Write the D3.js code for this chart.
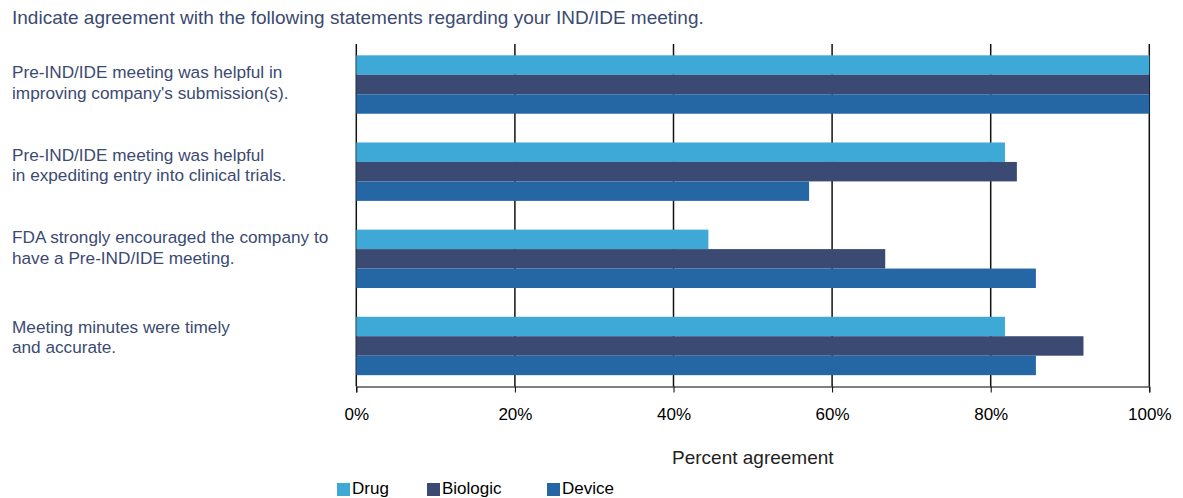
<!DOCTYPE html>
<html>
<head>
<meta charset="utf-8">
<script src="https://cdn.jsdelivr.net/npm/d3@7"></script>
<style>
  body { margin: 0; background: #fff; }
  svg { display: block; font-family: "Liberation Sans", Arial, sans-serif; }
</style>
</head>
<body>
<svg id="chart" width="1183" height="498"></svg>
<script>
// chart data
var title = "Indicate agreement with the following statements regarding your IND/IDE meeting.";
var statements = [
    ["Pre-IND/IDE meeting was helpful in", "improving company's submission(s)."],
    ["Pre-IND/IDE meeting was helpful", "in expediting entry into clinical trials."],
    ["FDA strongly encouraged the company to", "have a Pre-IND/IDE meeting."],
    ["Meeting minutes were timely", "and accurate."]
];
var seriesNames = ["Drug", "Biologic", "Device"];
var drugValues = [100, 81.8, 44.4, 81.8];
var biologicValues = [100, 83.3, 66.7, 91.7];
var deviceValues = [100, 57.1, 85.7, 85.7];
var tickValues = [0, 20, 40, 60, 80, 100];
var axisTitle = "Percent agreement";

var colors = ["#3ea8d6", "#3b4a72", "#2566a5"];
var textColor = "#3b4a72";
// labels in the original sit a little above the band centres
var labelNudge = [-2, -6.7, -11.4, -9];

var svg = d3.select("#chart");

var series = [drugValues, biologicValues, deviceValues];
var rows = statements.map(function(s, i) {
    return { idx: i, label: s, values: series.map(function(v) { return v[i]; }) };
});

var xScale = d3.scaleLinear().domain([0, 100]).range([356.3, 1149.3]);
var yScale = d3.scaleBand()
    .domain(d3.range(statements.length))
    .range([44, 386.5])
    .paddingInner(0.33)
    .paddingOuter(0.13);
var subScale = d3.scaleBand()
    .domain(d3.range(seriesNames.length))
    .range([0, yScale.bandwidth()]);

// title
svg.append("text")
    .attr("x", 12)
    .attr("y", 24)
    .attr("fill", textColor)
    .style("font-size", "19px")
    .text(title);

// gridlines (behind bars)
svg.append("g")
    .selectAll("line")
    .data(tickValues)
    .enter()
    .append("line")
    .attr("x1", function(d) { return xScale(d); })
    .attr("x2", function(d) { return xScale(d); })
    .attr("y1", 44)
    .attr("y2", 386.5)
    .attr("stroke", "#111")
    .attr("stroke-width", 1.5);

// bars
var groups = svg.append("g")
    .selectAll("g")
    .data(rows)
    .enter()
    .append("g")
    .attr("transform", function(d) { return "translate(0," + yScale(d.idx) + ")"; });

groups.selectAll("rect")
    .data(function(d) { return d.values; })
    .enter()
    .append("rect")
    .attr("x", xScale(0))
    .attr("y", function(d, i) { return subScale(i); })
    .attr("width", function(d) { return xScale(d) - xScale(0); })
    .attr("height", subScale.bandwidth())
    .attr("fill", function(d, i) { return colors[i]; });

// category labels
svg.append("g")
    .selectAll("text")
    .data(rows)
    .enter()
    .append("text")
    .attr("fill", textColor)
    .style("font-size", "17.2px")
    .each(function(d) {
        var cy = yScale(d.idx) + yScale.bandwidth() / 2 + labelNudge[d.idx];
        var n = d.label.length;
        d3.select(this).selectAll("tspan")
            .data(d.label)
            .enter()
            .append("tspan")
            .attr("x", 12)
            .attr("y", function(line, j) { return cy + 6 + (j - (n - 1) / 2) * 20.8; })
            .text(function(line) { return line; });
    });

// x axis
var xAxis = svg.append("g")
    .attr("transform", "translate(0,386.5)")
    .call(d3.axisBottom(xScale)
        .tickValues(tickValues)
        .tickFormat(function(d) { return d + "%"; })
        .tickSize(6)
        .tickSizeOuter(6)
        .tickPadding(15));
xAxis.select(".domain").attr("stroke", "#000").attr("stroke-width", 1);
xAxis.selectAll(".tick line").attr("stroke", "#000");
xAxis.selectAll("text")
    .attr("fill", "#000")
    .style("font-size", "17px")
    .style("font-family", "'Liberation Sans', Arial, sans-serif");

svg.append("text")
    .attr("x", (xScale(0) + xScale(100)) / 2)
    .attr("y", 464)
    .attr("text-anchor", "middle")
    .attr("fill", "#222")
    .style("font-size", "19px")
    .text(axisTitle);

// legend
var legendX = [337, 427, 547];
var legend = svg.append("g")
    .selectAll("g")
    .data(seriesNames)
    .enter()
    .append("g")
    .attr("transform", function(d, i) { return "translate(" + legendX[i] + ",482)"; });
legend.append("rect")
    .attr("width", 13)
    .attr("height", 13)
    .attr("y", 1)
    .attr("fill", function(d, i) { return colors[i]; });
legend.append("text")
    .attr("x", 15)
    .attr("y", 12)
    .attr("fill", "#000")
    .style("font-size", "17px")
    .text(function(d) { return d; });
</script>
</body>
</html>
